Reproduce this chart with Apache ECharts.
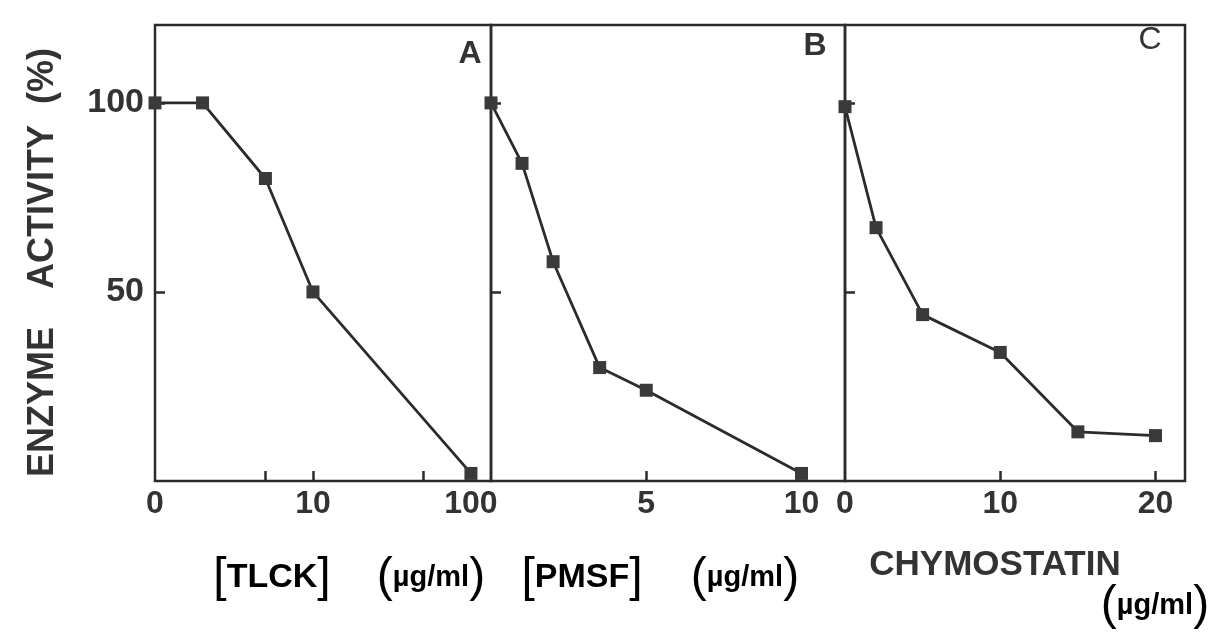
<!DOCTYPE html>
<html>
<head>
<meta charset="utf-8">
<title>Enzyme activity</title>
<script src="https://cdn.jsdelivr.net/npm/echarts@6.0.0/dist/echarts.min.js"></script>
<style>
html, body { margin: 0; padding: 0; background: #fff; }
#main { width: 1229px; height: 641px; }
</style>
</head>
<body>
<div id="main"></div>
<script>
// panel A - TLCK (ug/ml), log-like axis, 0 sits at the left edge
var tlckDose = [0, 2, 5, 10, 100];
var tlckActivity = [100, 100, 80, 50, 2];
var tlckLabels = [0, 10, 100];
var tlckTicks = [5, 10, 50];

// panel B - PMSF (ug/ml)
var pmsfDose = [0, 1, 2, 3.5, 5, 10];
var pmsfActivity = [100, 84, 58, 30, 24, 2];
var pmsfLabels = [5, 10];
var pmsfTicks = [5];

// panel C - chymostatin (ug/ml)
var chymoDose = [0, 2, 5, 10, 15, 20];
var chymoActivity = [99, 67, 44, 34, 13, 12];
var chymoLabels = [0, 10, 20];
var chymoTicks = [10, 20];

// enzyme activity (%)
var yLabels = [50, 100];
var yTicks = [50, 100];

var ink = '#2b2b2b';
var font = 'Liberation Sans, Arial, sans-serif';

// panel A is drawn on log10 of the dose, 0 is put where 1 would be
function lg(v) { return v <= 1 ? 0 : Math.log10(v); }
function pairs(xs, ys, f) {
    return xs.map(function (x, i) { return [f ? f(x) : x, ys[i]]; });
}

var myChart = echarts.init(document.getElementById('main'));

function xAxisFor(grid, min, max, labels, ticks, fmt) {
    return {
        type: 'value', gridIndex: grid, min: min, max: max,
        axisLine: { show: false },
        splitLine: { show: false },
        axisTick: { show: true, inside: true, length: 10, customValues: ticks,
            lineStyle: { color: ink, width: 2.5 } },
        axisLabel: { show: labels.length > 0, customValues: labels, margin: 7,
            fontSize: 32, fontWeight: 'bold', fontFamily: font, color: '#333',
            formatter: fmt }
    };
}
function yAxisFor(grid, showLabels) {
    return {
        type: 'value', gridIndex: grid, min: 0, max: 120.6,
        axisLine: { show: false },
        splitLine: { show: false },
        axisTick: { show: true, inside: true, length: 10, customValues: yTicks,
            lineStyle: { color: ink, width: 2.5 } },
        axisLabel: { show: showLabels, customValues: yLabels, margin: 11,
            fontSize: 34, fontWeight: 'bold', fontFamily: font, color: '#333' }
    };
}
function line(idx, data) {
    return {
        type: 'line', xAxisIndex: idx, yAxisIndex: idx, data: data,
        symbol: 'rect', symbolSize: 13, showSymbol: true,
        lineStyle: { color: ink, width: 2.8 },
        itemStyle: { color: '#3a3a3a' },
        z: 5
    };
}
function txt(x, y, text, size, extra) {
    var s = { x: x, y: y, text: text, fill: '#333',
        font: 'bold ' + size + 'px ' + font,
        textAlign: 'center', textVerticalAlign: 'middle' };
    for (var k in extra) s[k] = extra[k];
    return { type: 'text', style: s, z: 10 };
}
var rich = {
    br: { fontSize: 48, fontWeight: 'normal', fontFamily: font, color: '#333' },
    t: { fontSize: 34, fontWeight: 'bold', fontFamily: font, color: '#333' },
    u: { fontSize: 29, fontWeight: 'bold', fontFamily: font, color: '#333' }
};
function unitText(x, y) {
    return { type: 'text', z: 10, style: { x: x, y: y, text: '{br|(}{u|µg/ml}{br|)}',
        rich: rich, textAlign: 'center', textVerticalAlign: 'middle' } };
}
function nameText(x, y, name) {
    return { type: 'text', z: 10, style: { x: x, y: y, text: '{br|[}{t|' + name + '}{br|]}',
        rich: rich, textAlign: 'center', textVerticalAlign: 'middle' } };
}
function vtxt(x, y, text) {
    return { type: 'text', x: x, y: y, rotation: Math.PI / 2, z: 10,
        style: { x: 0, y: 0, text: text, fill: '#333', font: 'bold 36px ' + font,
            textAlign: 'center', textVerticalAlign: 'middle' } };
}

var gridStyle = { show: true, borderColor: ink, borderWidth: 2.5, top: 25, height: 456 };

var option = {
    animation: false,
    backgroundColor: '#fff',
    grid: [
        Object.assign({ left: 155, width: 336 }, gridStyle),
        Object.assign({ left: 491, width: 354 }, gridStyle),
        Object.assign({ left: 845, width: 340 }, gridStyle)
    ],
    xAxis: [
        xAxisFor(0, 0, 2.127, tlckLabels.map(lg), tlckTicks.map(lg), function (v) {
            return v === 0 ? '0' : String(Math.round(Math.pow(10, v)));
        }),
        xAxisFor(1, 0, 11.4, pmsfLabels, pmsfTicks),
        xAxisFor(2, 0, 21.9, chymoLabels, chymoTicks)
    ],
    yAxis: [yAxisFor(0, true), yAxisFor(1, false), yAxisFor(2, false)],
    series: [
        line(0, pairs(tlckDose, tlckActivity, lg)),
        line(1, pairs(pmsfDose, pmsfActivity)),
        line(2, pairs(chymoDose, chymoActivity))
    ],
    graphic: [
        txt(470, 54, 'A', 32),
        txt(815, 46, 'B', 32),
        txt(1150, 40, 'C', 32, { font: '32px ' + font }),
        vtxt(43, 402, 'ENZYME'),
        vtxt(43, 207, 'ACTIVITY'),
        vtxt(43, 76, '(%)'),
        nameText(272, 578, 'TLCK'),
        unitText(431, 578),
        nameText(582, 578, 'PMSF'),
        unitText(745, 578),
        txt(995, 565, 'CHYMOSTATIN', 35),
        unitText(1155, 606)
    ]
};
myChart.setOption(option);
</script>
</body>
</html>
